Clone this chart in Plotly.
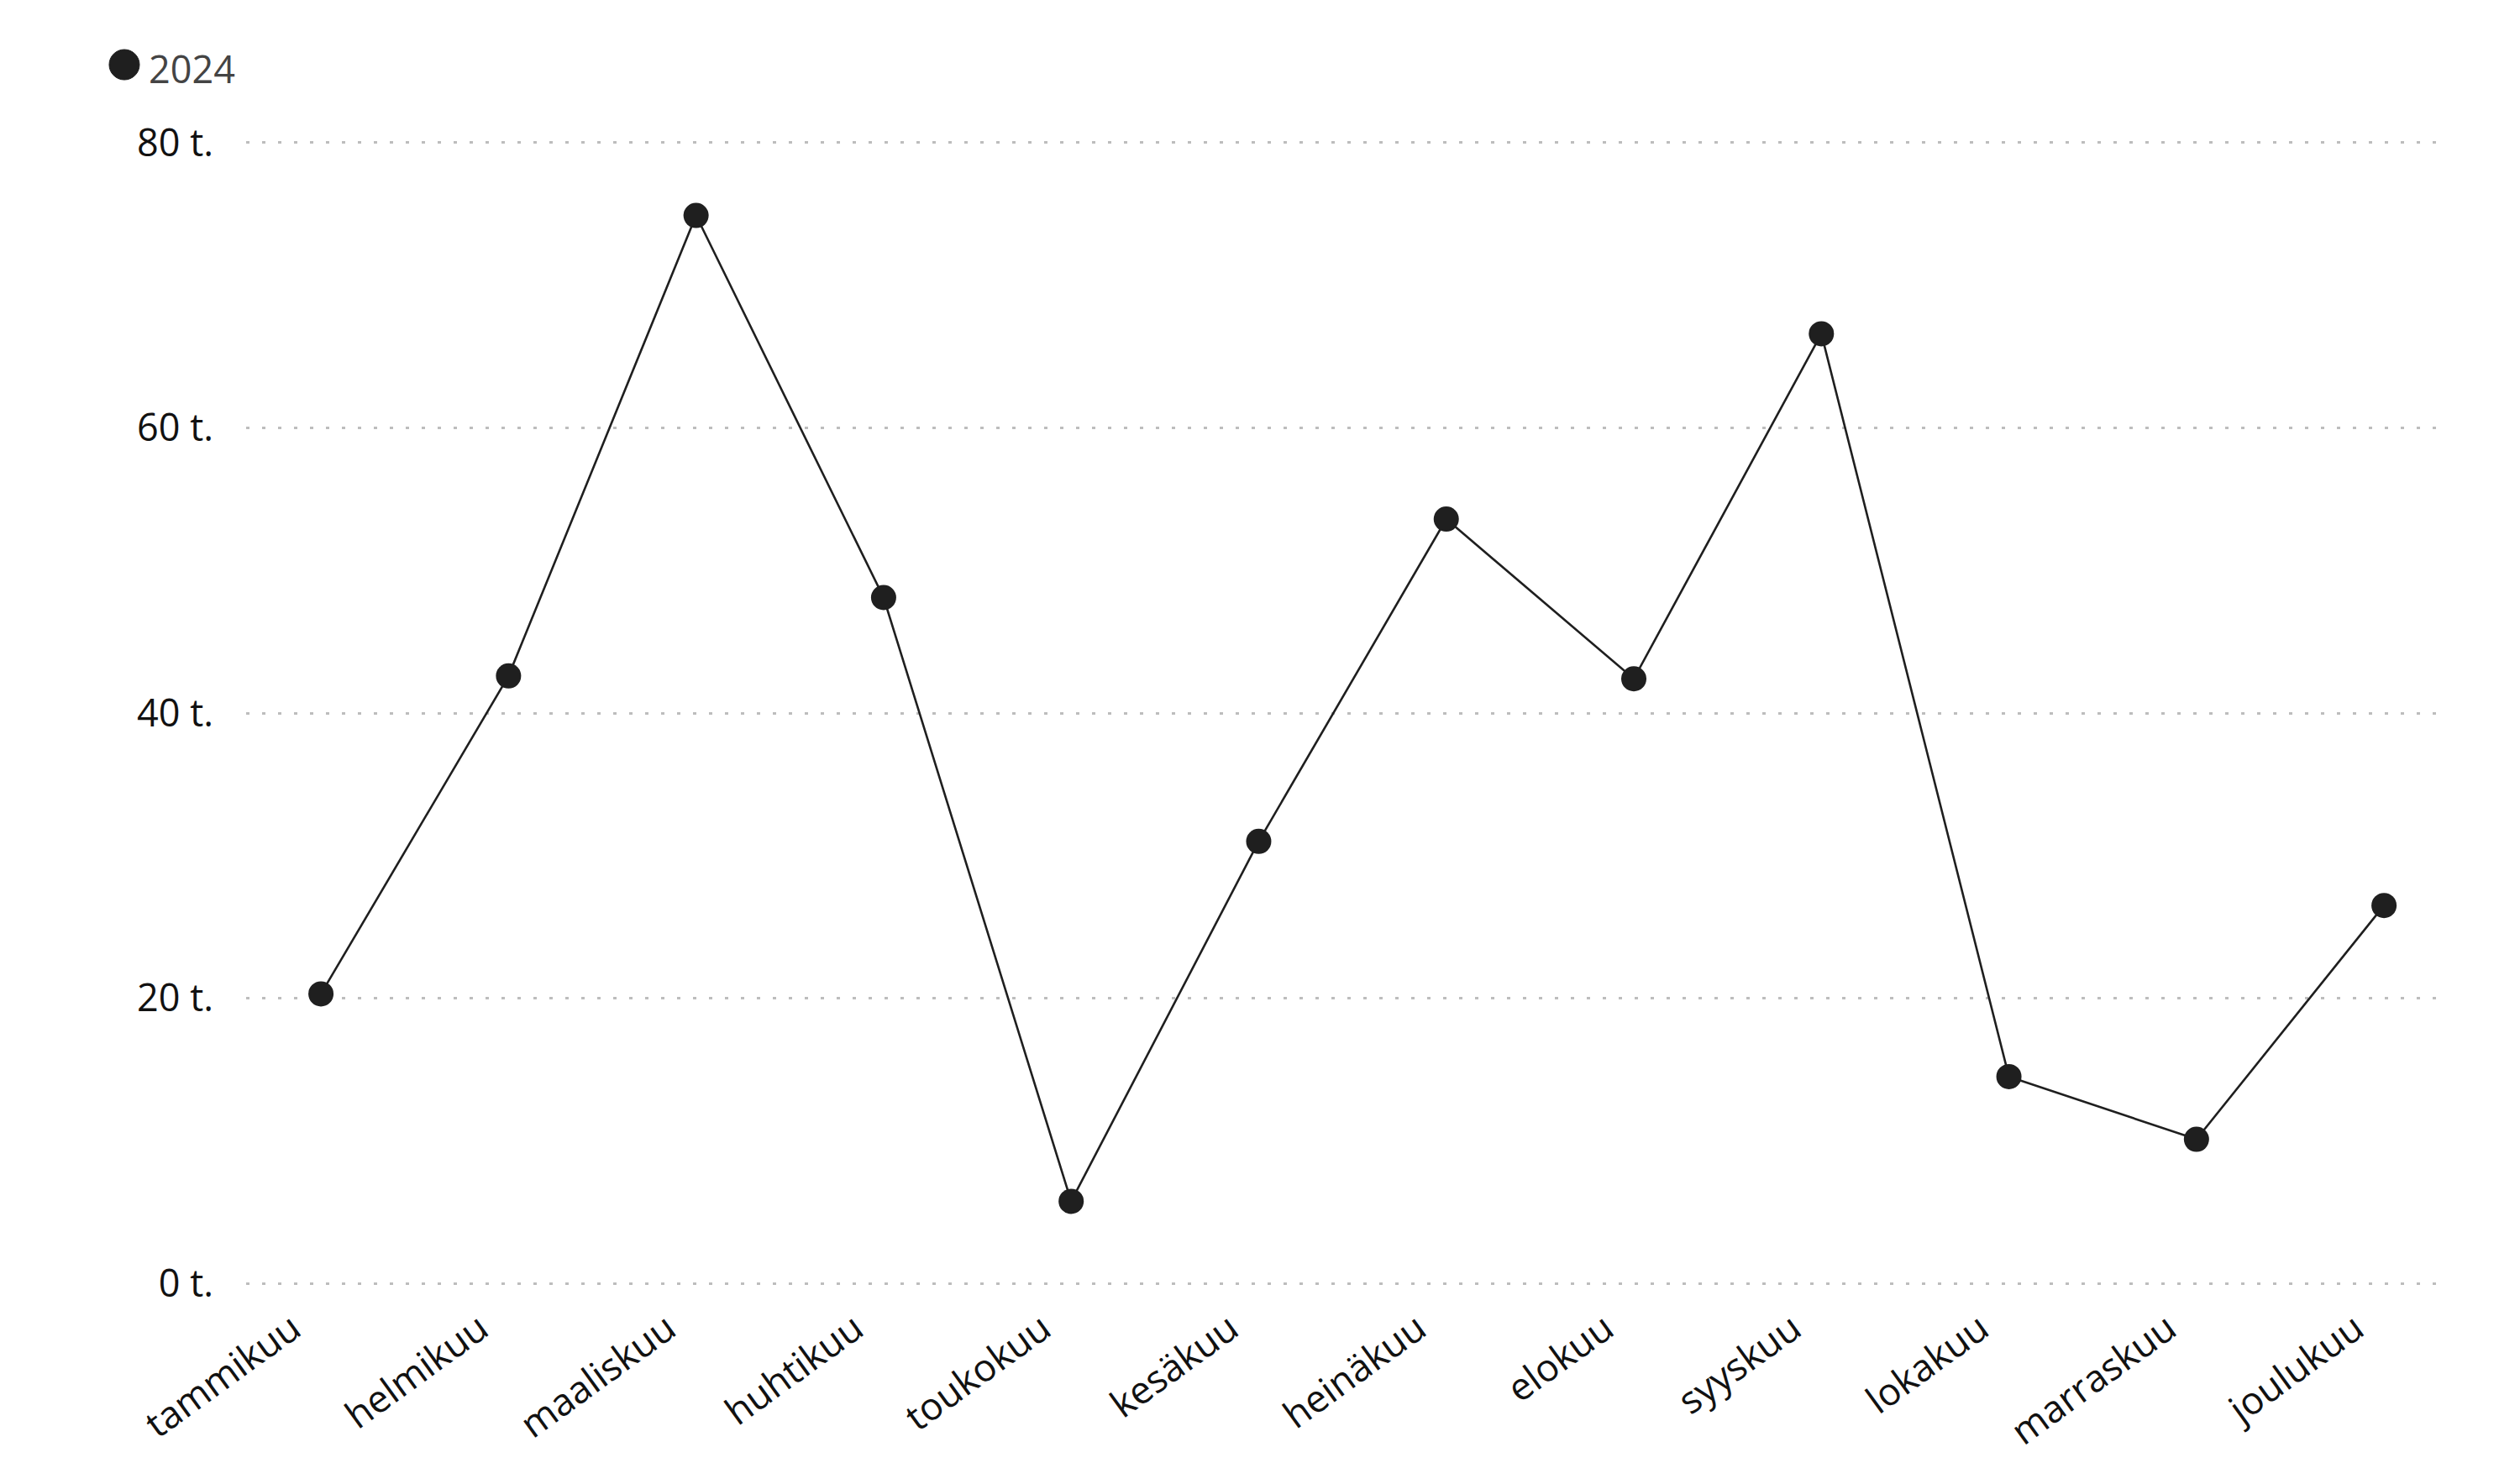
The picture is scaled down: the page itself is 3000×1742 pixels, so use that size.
import plotly.graph_objects as go

months = ["tammikuu", "helmikuu", "maaliskuu", "huhtikuu", "toukokuu", "kesäkuu",
          "heinäkuu", "elokuu", "syyskuu", "lokakuu", "marraskuu", "joulukuu"]
values_2024 = [20.3, 42.6, 74.9, 48.1, 5.75, 31.0, 53.6, 42.4, 66.6, 14.5, 10.1, 26.5]
series_name = "2024"
y_ticks = [0, 20, 40, 60, 80]
y_ticktext = ["0 t.", "20 t.", "40 t.", "60 t.", "80 t."]

OFF = 8  # default page body margin in the written html
W, H = 3000, 1742
L, R, T, B = 293 - OFF, 92 + OFF, 136 - OFF, 180 + OFF
PW, PH = W - L - R, H - T - B


def px_to_paper(px, py):
    px, py = px - OFF, py - OFF
    return (px - L) / PW, (H - B - py) / PH


fig = go.Figure()
fig.add_trace(go.Scatter(
    x=list(range(len(months))), y=values_2024, name=series_name, mode="lines+markers",
    line=dict(color="#1f1f1f", width=2.6),
    marker=dict(color="#1f1f1f", size=30),
    showlegend=False,
))

# legend drawn as shape + text (Plotly caps legend marker size)
cx0, cy0 = px_to_paper(148 - 18, 77 - 18)
cx1, cy1 = px_to_paper(148 + 18, 77 + 18)
fig.add_shape(type="circle", xref="paper", yref="paper",
              x0=cx0, x1=cx1, y0=cy1, y1=cy0,
              fillcolor="#1f1f1f", line=dict(color="#1f1f1f", width=1))
tx, ty = px_to_paper(175, 81)
fig.add_annotation(text=series_name, xref="paper", yref="paper", x=tx, y=ty,
                   xanchor="left", yanchor="middle", showarrow=False,
                   font=dict(size=45, color="#444444"))

font = "Open Sans, Noto Sans, sans-serif"
fig.update_layout(
    width=W, height=H,
    paper_bgcolor="white", plot_bgcolor="white",
    margin=dict(l=L, r=R, t=T, b=B),
    font=dict(family=font, size=45, color="#111"),
    showlegend=False,
    xaxis=dict(
        range=[-0.399, 11.313],
        tickvals=list(range(len(months))), ticktext=months,
        tickangle=-36, showgrid=False, zeroline=False, showline=False,
        ticks="", tickfont=dict(size=45, color="#111"),
        ticklabelshift=-34, ticklabelstandoff=-16,
    ),
    yaxis=dict(
        range=[-2, 82], tickvals=y_ticks, ticktext=y_ticktext,
        showgrid=True, gridcolor="#bdbdbd", gridwidth=3, griddash="4px,15px",
        zeroline=False, showline=False, ticks="",
        ticklabelstandoff=38,
        tickfont=dict(size=45, color="#111"),
    ),
)

fig.write_html("out.html")
